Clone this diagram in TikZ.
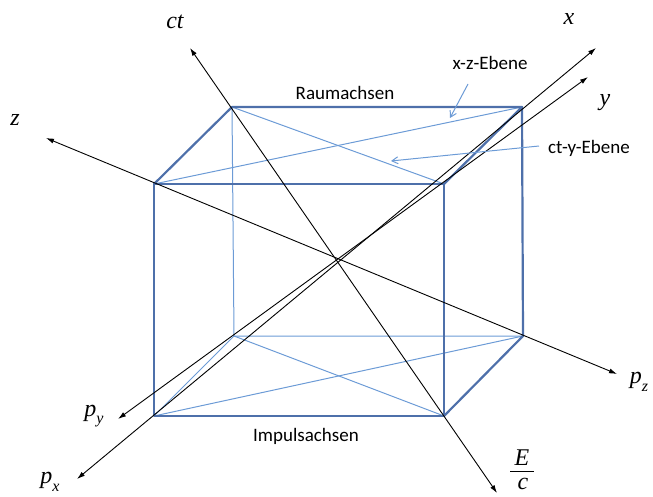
\documentclass[tikz,border=0pt]{standalone}
\usepackage{fontspec}
\setmainfont{Carlito}
\newfontfamily\tms{Liberation Serif}
\usetikzlibrary{arrows.meta}
\definecolor{edgeblue}{RGB}{78,112,170}
\definecolor{thinblue}{RGB}{108,155,214}
\tikzset{
  thickedge/.style={draw=edgeblue, line width=2.2pt, line join=round, line cap=round},
  thinedge/.style={draw=thinblue, line width=1pt},
  axis/.style={draw=black, line width=0.9pt, {Latex[length=8pt,width=5pt]}-{Latex[length=8pt,width=5pt]}},
  pointer/.style={draw=thinblue, line width=1pt, -{Straight Barb[length=6pt,width=7pt]}},
  mlabel/.style={font=\tms\itshape\fontsize{24}{24}\selectfont, inner sep=0pt},
  slabel/.style={font=\fontsize{19}{19}\selectfont, inner sep=0pt},
}
\newcommand{\sbs}[2]{#1\raisebox{-0.32em}{\fontsize{16}{16}\selectfont #2}}
\begin{document}
\begin{tikzpicture}[x=1pt,y=-1pt]
\useasboundingbox (0,0) rectangle (653,497);
% cube vertices
\coordinate (A) at (154,184);
\coordinate (B) at (444,184);
\coordinate (G) at (444,416);
\coordinate (E) at (154,416);
\coordinate (D) at (232,107);
\coordinate (C) at (522,107);
\coordinate (H) at (523,336);
\coordinate (F) at (234,336);
% hidden edges and face diagonals
\draw[thinedge] (D) -- (F) -- (H);
\draw[thinedge] (F) -- (E);
\draw[thinedge] (A) -- (C);
\draw[thinedge] (D) -- (B);
\draw[thinedge] (F) -- (G);
\draw[thinedge] (E) -- (H);
% visible edges
\draw[thickedge] (A) -- (B) -- (G) -- (E) -- cycle;
\draw[thickedge] (A) -- (D) -- (C) -- (B);
\draw[thickedge] (C) -- (H) -- (G);
% axis end points
\coordinate (ctT) at (190,48);
\coordinate (EcT) at (497,493);
\coordinate (zT) at (46,138);
\coordinate (pzT) at (617,374);
\coordinate (xT) at (596,48);
\coordinate (pxT) at (77,479);
\coordinate (yT) at (588,77);
\coordinate (pyT) at (118,419);
\draw[axis] (ctT) -- (EcT);
\draw[axis] (zT) -- (pzT);
\draw[axis] (xT) -- (pxT);
\draw[axis] (yT) -- (pyT);
% axis labels
\node[mlabel] (lct) at (175,22) {ct};
\node[mlabel] (lz) at (15,120) {z};
\node[mlabel] (lx) at (569,19) {x};
\node[mlabel] (ly) at (605,103) {y};
\node[mlabel] (lpz) at (639,382) {\sbs{p}{z}};
\node[mlabel] (lpy) at (94,416) {\sbs{p}{y}};
\node[mlabel] (lpx) at (50,482) {\sbs{p}{x}};
\node[mlabel] (lE) at (522,458) {E};
\node[mlabel] (lc) at (523,484) {c};
\coordinate (barL) at (510,471);
\coordinate (barR) at (534,471);
\draw[line width=0.9pt] (barL) -- (barR);
% text labels
\node[slabel] (raum) at (345,93) {Raumachsen};
\node[slabel] (impuls) at (306,436) {Impulsachsen};
\node[slabel] (xz) at (490,63) {x-z-Ebene};
\node[slabel] (cty) at (589,148) {ct-y-Ebene};
% pointers
\coordinate (xzS) at (468,84);
\coordinate (xzE) at (450,118);
\coordinate (ctyS) at (539,146);
\coordinate (ctyE) at (391,161);
\draw[pointer] (xzS) -- (xzE);
\draw[pointer] (ctyS) -- (ctyE);
\end{tikzpicture}
\end{document}
